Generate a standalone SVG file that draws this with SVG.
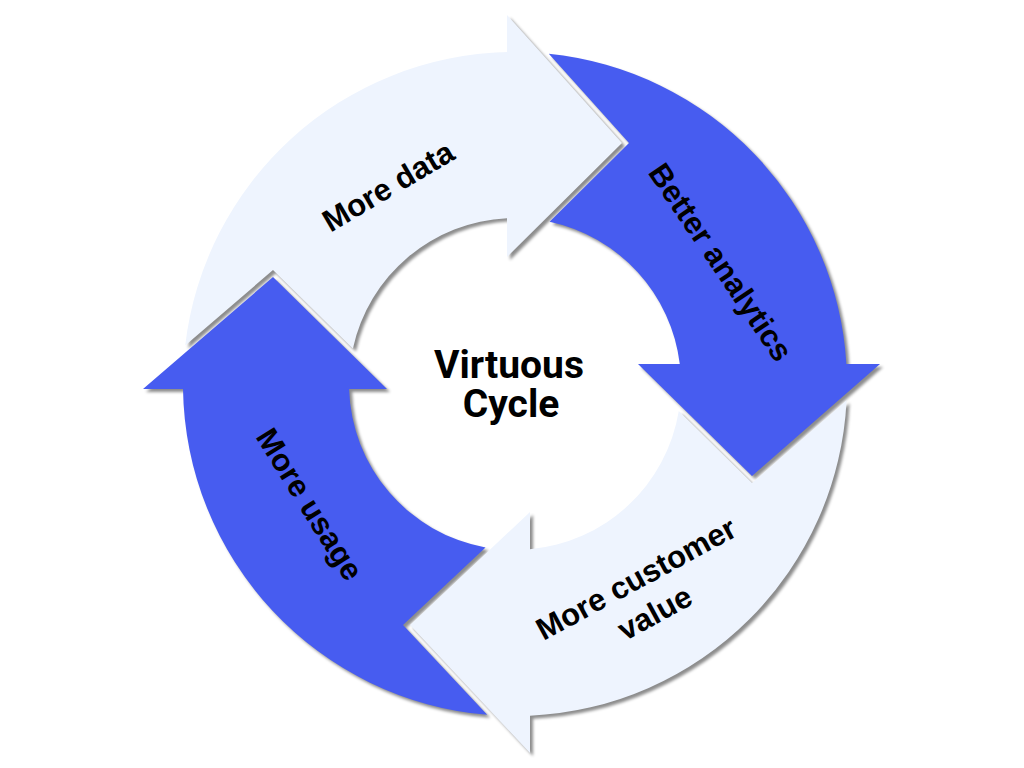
<svg xmlns="http://www.w3.org/2000/svg" xmlns:xlink="http://www.w3.org/1999/xlink" width="1024" height="768" viewBox="0 0 1024 768">
  <style>
    .light { fill: #EEF4FE; }
    .dark { fill: #475CF0; }
    .label { font-family: "Liberation Sans", Arial, sans-serif; font-weight: bold; font-size: 31px; fill: #000; text-anchor: middle; }
    .title { font-family: Roboto, "Liberation Sans", sans-serif; font-weight: bold; font-size: 39px; fill: #000; text-anchor: middle; }
  </style>
  <defs>
    <filter id="shadowOnly" x="-10%" y="-10%" width="130%" height="130%">
      <feGaussianBlur in="SourceAlpha" stdDeviation="1.6" result="b"/>
      <feOffset in="b" dx="3" dy="3" result="o"/>
      <feFlood flood-color="#000" flood-opacity="0.45"/>
      <feComposite in2="o" operator="in"/>
    </filter>
  </defs>
  <rect width="1024" height="768" fill="#ffffff"/>

  <!-- shadow layer beneath all arrows -->
  <g id="connectors" filter="url(#shadowOnly)">
    <use xlink:href="#arrow-data"/>
    <use xlink:href="#arrow-analytics"/>
    <use xlink:href="#arrow-value"/>
    <use xlink:href="#arrow-usage"/>
  </g>

  <g id="node-more-data">
    <path id="arrow-data" class="light" d="M 185.2,345.6 A 332 332 0 0 1 507,52.1 L 507,15 L 622,143 L 507,257 L 507,218.2 A 166 166 0 0 0 352.9,348.5 L 273,270 Z"/>
    <g transform="translate(388,186) rotate(-30.5)">
      <text class="label" x="0" y="11">More data</text>
    </g>
  </g>

  <g id="node-better-analytics">
    <path id="arrow-analytics" class="dark" d="M 548.8,53.7 A 332 332 0 0 1 846.4,364 L 880,364 L 752,476 L 638,364 L 679.8,364 A 166 166 0 0 0 549.6,221.7 L 629,143 Z"/>
    <g transform="translate(721,262) rotate(56)">
      <text class="label" x="0" y="11">Better analytics</text>
    </g>
  </g>

  <g id="node-more-customer-value">
    <path id="arrow-value" class="light" d="M 846.6,400.2 A 332 332 0 0 1 530,715.7 L 530,753 L 410,625 L 530,512 L 530,549.3 A 166 166 0 0 0 678.8,411.1 L 752,483 Z"/>
    <g transform="translate(645,595) rotate(-28.5)">
      <text class="label" x="0" y="-8">More customer</text>
      <text class="label" x="0" y="31">value</text>
    </g>
  </g>

  <g id="node-more-usage">
    <path id="arrow-usage" class="dark" d="M 487.2,714.8 A 332 332 0 0 1 183,389 L 143,389 L 273,277 L 387,389 L 349.1,389 A 166 166 0 0 0 485.5,547.4 L 403,625 Z"/>
    <g transform="translate(310,504) rotate(58)">
      <text class="label" x="0" y="11">More usage</text>
    </g>
  </g>

  <g id="node-center">
    <text class="title" x="509" y="378">Virtuous</text>
    <text class="title" x="511" y="417">Cycle</text>
  </g>
</svg>
